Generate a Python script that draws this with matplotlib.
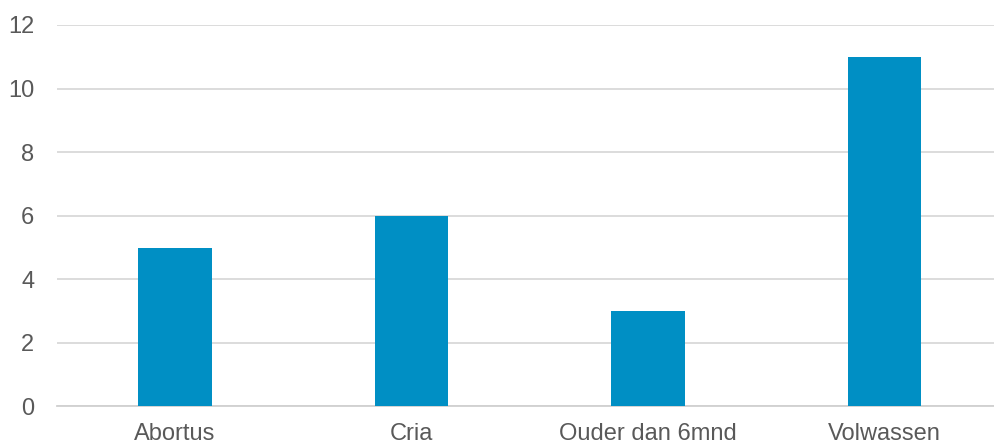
import matplotlib.pyplot as plt

categories = ['Abortus', 'Cria', 'Ouder dan 6mnd', 'Volwassen']
values = [5, 6, 3, 11]

plt.rcParams['font.family'] = ['Liberation Sans', 'DejaVu Sans']

fig = plt.figure(figsize=(9.94, 4.43), dpi=100)
ax = fig.add_axes([0.057, 0.0824, 0.952, 0.8612])

ax.bar(range(len(categories)), values, width=0.31, color='#008FC4', zorder=3)

ax.set_xlim(-0.5, len(categories) - 0.5)
ax.set_ylim(0, 12)
ax.set_yticks(range(0, 13, 2))
ax.set_xticks(range(len(categories)))
ax.set_xticklabels(categories)

ax.grid(axis='y', color='#d9d9d9', linewidth=1.3, zorder=0)
for side in ['top', 'right', 'left']:
    ax.spines[side].set_visible(False)
ax.spines['bottom'].set_color('#d0d0d0')
ax.spines['bottom'].set_linewidth(1.3)

ax.tick_params(axis='both', length=0, labelsize=17, colors='#595959')
ax.tick_params(axis='y', pad=16)
ax.tick_params(axis='x', pad=12)

plt.savefig('out.png')
